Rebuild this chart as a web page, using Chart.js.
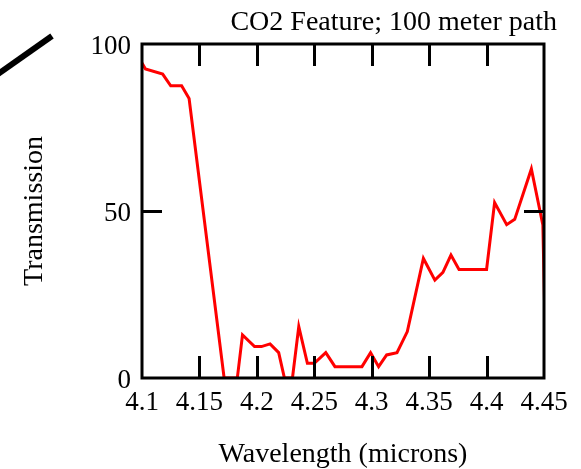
<!DOCTYPE html>
<html>
<head>
<meta charset="utf-8">
<script src="https://cdn.jsdelivr.net/npm/chart.js@4/dist/chart.umd.min.js"></script>
<style>
  html, body { margin: 0; padding: 0; background: #fff; }
  #co2Chart { display: block; }
</style>
</head>
<body>
<canvas id="co2Chart" width="581" height="469"></canvas>
<script>
// values
const wavelengths = [
  4.100, 4.103, 4.118, 4.125, 4.1345, 4.141, 4.1715, 4.183, 4.1875, 4.198,
  4.204, 4.2115, 4.219, 4.224, 4.231, 4.2365, 4.244, 4.250, 4.260, 4.268,
  4.2915, 4.299, 4.306, 4.313, 4.322, 4.331, 4.345, 4.355, 4.362, 4.369,
  4.376, 4.400, 4.407, 4.4175, 4.4245, 4.439, 4.449, 4.4505
];
const transmission = [
  94.3, 92.5, 91, 87.5, 87.5, 83.7, 0, 0, 12.9, 9.4,
  9.4, 10.2, 7.6, 0, 0, 15.4, 4.4, 4.4, 7.6, 3.4,
  3.4, 7.6, 3.4, 6.9, 7.6, 13.9, 35.8, 29.3, 31.6, 36.8,
  32.5, 32.5, 52.5, 45.9, 47.5, 62.6, 45.8, 22
];
const xTicks = [4.1, 4.15, 4.2, 4.25, 4.3, 4.35, 4.4, 4.45];
const yTicks = [0, 50, 100];

const serif = "'Liberation Serif', 'Times New Roman', serif";
Chart.defaults.color = '#000';
Chart.defaults.font.family = serif;

// white page, boxed frame with inward ticks, and the stray stroke at top left
const framePlugin = {
  id: 'frame',
  beforeDraw(chart) {
    const ctx = chart.ctx;
    ctx.save();
    ctx.fillStyle = '#fff';
    ctx.fillRect(0, 0, chart.width, chart.height);
    ctx.restore();
  },
  afterDatasetsDraw(chart) {
    const { ctx, chartArea: a } = chart;
    const x = chart.scales.x, y = chart.scales.y;
    ctx.save();
    ctx.strokeStyle = '#000';
    ctx.lineWidth = 3;
    ctx.strokeRect(a.left, a.top, a.right - a.left, a.bottom - a.top);
    ctx.beginPath();
    xTicks.slice(1, -1).forEach(v => {
      const px = Math.round(x.getPixelForValue(v)) + 0.5;
      ctx.moveTo(px, a.bottom); ctx.lineTo(px, a.bottom - 22);
      ctx.moveTo(px, a.top); ctx.lineTo(px, a.top + 22);
    });
    yTicks.slice(1, -1).forEach(v => {
      const py = Math.round(y.getPixelForValue(v)) + 0.5;
      ctx.moveTo(a.left, py); ctx.lineTo(a.left + 20, py);
      ctx.moveTo(a.right, py); ctx.lineTo(a.right - 20, py);
    });
    ctx.stroke();
    ctx.lineWidth = 6;
    ctx.beginPath();
    ctx.moveTo(-2, 74);
    ctx.lineTo(52, 36);
    ctx.stroke();
    ctx.restore();
  }
};

new Chart(document.getElementById('co2Chart'), {
  type: 'line',
  data: {
    datasets: [{
      data: wavelengths.map((w, i) => ({ x: w, y: transmission[i] })),
      borderColor: 'rgb(255,0,0)',
      borderWidth: 3,
      pointRadius: 0,
      tension: 0,
      fill: false
    }]
  },
  options: {
    responsive: false,
    animation: false,
    layout: { padding: { left: 0, right: 24, top: 0, bottom: 0 } },
    plugins: {
      legend: { display: false },
      tooltip: { enabled: false },
      title: {
        display: true,
        text: 'CO2 Feature; 100 meter path',
        align: 'end',
        color: '#000',
        font: { family: serif, size: 28, weight: 'normal', lineHeight: 1.2 },
        padding: { top: 6, bottom: 4.4 }
      }
    },
    scales: {
      x: {
        type: 'linear',
        min: 4.1,
        max: 4.45,
        afterBuildTicks: s => { s.ticks = xTicks.map(v => ({ value: v })); },
        afterFit: s => { s.height = 91; },
        grid: { display: false, drawTicks: false },
        border: { display: false },
        ticks: {
          padding: 9,
          maxRotation: 0,
          autoSkip: false,
          font: { size: 27 },
          callback: v => String(Number(v.toFixed(2)))
        },
        title: {
          display: true,
          text: 'Wavelength (microns)',
          font: { size: 28, lineHeight: 1 },
          padding: { top: 0, bottom: 0 }
        }
      },
      y: {
        min: 0,
        max: 100,
        afterBuildTicks: s => { s.ticks = yTicks.map(v => ({ value: v })); },
        afterFit: s => { s.width = 142; },
        grid: { display: false, drawTicks: false },
        border: { display: false },
        ticks: { padding: 11, labelOffset: 3, font: { size: 27 } },
        title: {
          display: true,
          text: 'Transmission',
          font: { size: 28, lineHeight: 1 },
          padding: { top: 21, bottom: 0 }
        }
      },
      y2: {
        position: 'right',
        min: 0,
        max: 100,
        afterFit: s => { s.width = 13; },
        grid: { display: false, drawTicks: false },
        border: { display: false },
        ticks: { display: false }
      }
    }
  },
  plugins: [framePlugin]
});
</script>
</body>
</html>
